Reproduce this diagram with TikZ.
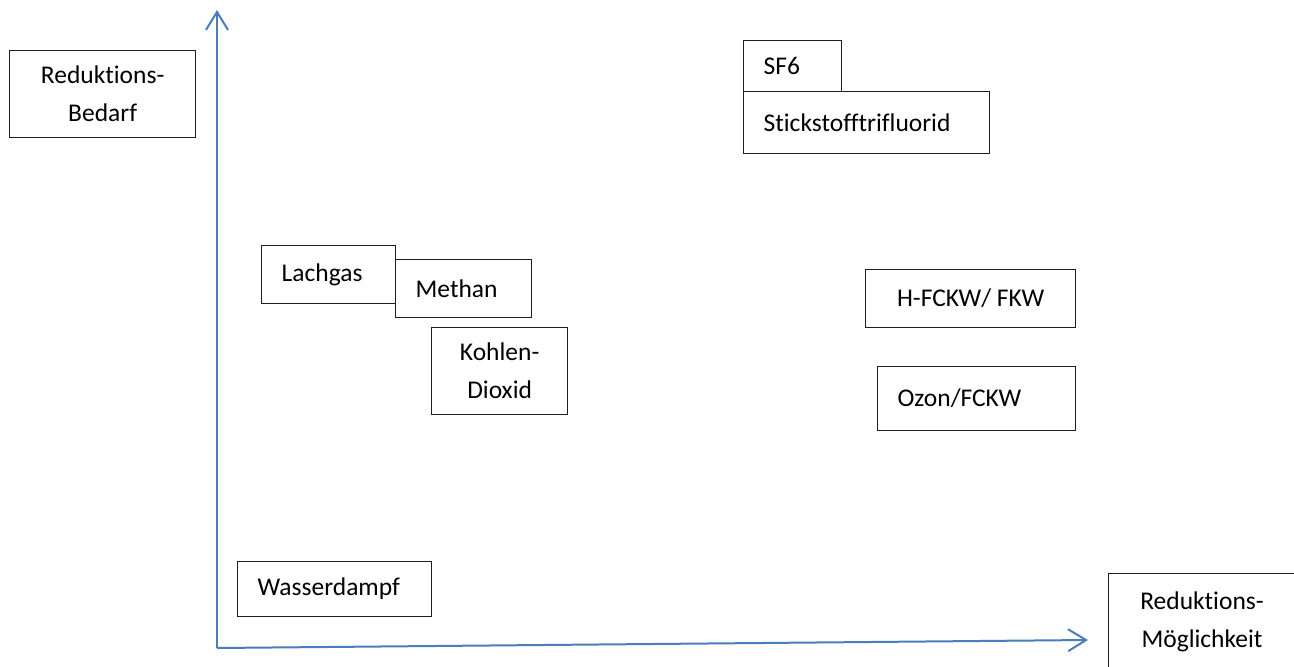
\documentclass[tikz,border=0pt]{standalone}
\usepackage{fontspec}
\setmainfont{Carlito}[Ligatures={NoCommon}]
\usetikzlibrary{arrows.meta}
\definecolor{axisblue}{RGB}{74,126,187}
\definecolor{boxline}{RGB}{30,30,30}
\tikzset{
  box/.style={draw=boxline, line width=1.3pt, fill=white, rectangle, anchor=north west,
    font=\fontsize{25.5}{38}\selectfont, inner ysep=0pt},
  leftbox/.style={box, align=left, inner xsep=20pt},
  midbox/.style={box, align=center, inner xsep=0pt},
  axis/.style={draw=axisblue, line width=2pt,
    -{Straight Barb[length=18pt,width=22pt,line width=2pt]}},
  plaintext/.style={font=\fontsize{25.5}{38}\selectfont, align=center, inner sep=0pt}
}
\begin{document}
\begin{tikzpicture}[x=1pt,y=-1pt]
\useasboundingbox (0,0) rectangle (1294,667);
\clip (0,0) rectangle (1294,667);
\fill[white] (0,0) rectangle (1294,667);

\coordinate (origin) at (217,648);
\coordinate (ytip) at (217,10);
\coordinate (xtip) at (1088,640);
\draw[axis] (origin) -- (ytip);
\draw[axis] (origin) -- (xtip);

\node[midbox, minimum width=186pt, minimum height=87pt] (bedarf) at (9,50) {Reduktions-\\Bedarf};
\node[leftbox, text width=58pt, minimum height=51pt] (sf6) at (743,40) {SF6};
\node[leftbox, text width=206pt, minimum height=62pt] (nf3) at (743,91) {Stickstofftrifluorid};
\node[leftbox, text width=94pt, minimum height=58pt] (lachgas) at (261,245) {Lachgas};
\node[leftbox, text width=96pt, minimum height=58pt] (methan) at (395,259) {Methan};
\node[midbox, minimum width=136pt, minimum height=87pt] (kohlen) at (431,327) {Kohlen-\\Dioxid};
\node[midbox, minimum width=210pt, minimum height=58pt] (hfckw) at (865,269) {H-FCKW/ FKW};
\node[leftbox, text width=158pt, minimum height=64pt] (ozon) at (877,366) {Ozon/FCKW};
\node[leftbox, text width=154pt, minimum height=55pt] (wasser) at (237,561) {Wasserdampf};
\node[box, minimum width=190pt, minimum height=130pt] (moegl) at (1108,573) {};
\node[plaintext] (moegltext) at (1202,622) {Reduktions-\\Möglichkeit};
\end{tikzpicture}
\end{document}
